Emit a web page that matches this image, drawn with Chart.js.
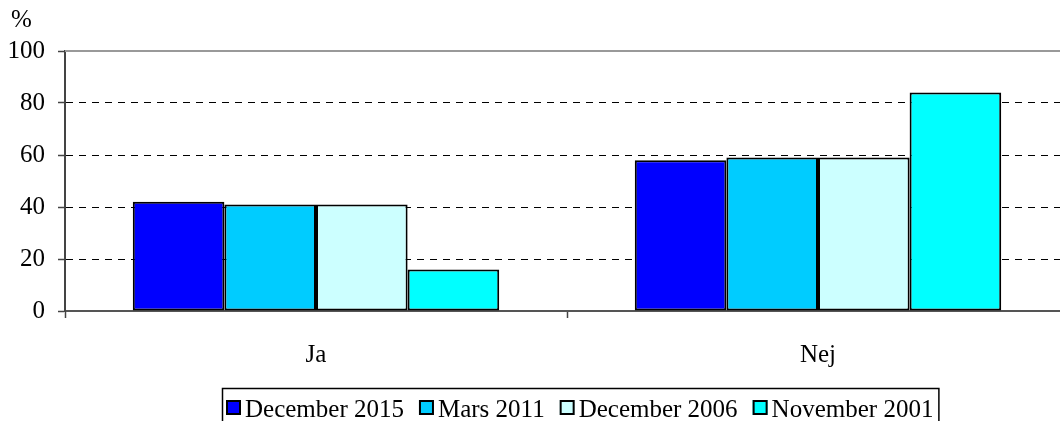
<!DOCTYPE html>
<html>
<head>
<meta charset="utf-8">
<script src="https://cdn.jsdelivr.net/npm/chart.js@4/dist/chart.umd.min.js"></script>
<style>
html,body{margin:0;padding:0;background:#fff;overflow:hidden;}
#wrap{position:absolute;left:0;top:0;width:1075px;height:430px;}
</style>
</head>
<body>
<div id="wrap"><canvas id="c" width="1075" height="430"></canvas></div>
<script>
const categories = ['Ja', 'Nej'];
const seriesLabels = ['December 2015', 'Mars 2011', 'December 2006', 'November 2001'];
const dec2015 = [42, 58];
const mars2011 = [41, 59];
const dec2006 = [41, 59];
const nov2001 = [16, 84];
const yTicks = [0, 20, 40, 60, 80, 100];
const unitLabel = '%';
const colors = ['#0000FF', '#00CCFF', '#CCFFFF', '#00FFFF'];

const FONT = '"Liberation Serif", "Times New Roman", serif';
const FS = 25;

const extras = {
  id: 'extras',
  afterDraw(chart) {
    const ctx = chart.ctx;
    const y = chart.scales.y;
    const area = chart.chartArea;
    ctx.save();
    // top line at 100
    ctx.strokeStyle = '#999999';
    ctx.lineWidth = 2;
    ctx.beginPath();
    const yTop = Math.round(y.getPixelForValue(100));
    ctx.moveTo(area.left, yTop);
    ctx.lineTo(area.right + 10, yTop);
    ctx.stroke();
    // unit label
    ctx.fillStyle = '#000';
    ctx.font = FS + 'px ' + FONT;
    ctx.textAlign = 'left';
    ctx.textBaseline = 'alphabetic';
    ctx.fillText(unitLabel, 11, 27);
    // legend
    const ds = chart.data.datasets;
    const box = 15, gapBox = 4, gapItem = 15, padL = 4, padR = 5;
    const widths = ds.map(d => box + gapBox + ctx.measureText(d.label).width);
    const startX = 226;
    const total = widths.reduce((a, b) => a + b, 0) + gapItem * (ds.length - 1) + padL + padR;
    const ly = 388;
    ctx.strokeStyle = '#000';
    ctx.lineWidth = 1.5;
    ctx.strokeRect(startX - padL + 0.5, ly + 0.5, total, 45);
    let x = startX;
    ds.forEach((d, i) => {
      ctx.fillStyle = d.backgroundColor;
      ctx.fillRect(x, 400, box, box);
      ctx.strokeStyle = '#000';
      ctx.lineWidth = 2;
      ctx.strokeRect(x + 1, 401, box - 2, box - 2);
      ctx.fillStyle = '#000';
      ctx.fillText(d.label, x + box + gapBox, 417);
      x += widths[i] + gapItem;
    });
    ctx.restore();
  }
};

new Chart(document.getElementById('c'), {
  type: 'bar',
  data: {
    labels: categories,
    datasets: [dec2015, mars2011, dec2006, nov2001].map((d, i) => ({
      label: seriesLabels[i],
      data: d,
      backgroundColor: colors[i],
      borderColor: '#000',
      borderWidth: 2,
      borderSkipped: false,
      categoryPercentage: 0.73,
      barPercentage: 1.0
    }))
  },
  options: {
    responsive: false,
    animation: false,
    devicePixelRatio: 1,
    layout: { padding: { left: 0, top: 51, right: 6, bottom: 0 } },
    plugins: {
      legend: { display: false },
      tooltip: { enabled: false },
      title: { display: false }
    },
    scales: {
      x: {
        afterFit(s) { s.height = 119; },
        grid: {
          display: true,
          drawOnChartArea: false,
          drawTicks: true,
          tickLength: 7,
          tickColor: '#444',
          tickWidth: 1.5,
          offset: true
        },
        border: { display: true, color: '#555', width: 2 },
        ticks: {
          color: '#000',
          font: { family: FONT, size: FS },
          padding: 22
        }
      },
      y: {
        min: 0,
        max: 100,
        afterFit(s) { s.width = 65; },
        afterBuildTicks(s) { s.ticks = yTicks.map(v => ({ value: v })); },
        grid: {
          color: ctx => (ctx.tick && (ctx.tick.value === 0 || ctx.tick.value === 100)) ? 'rgba(0,0,0,0)' : '#000',
          lineWidth: 1,
          drawTicks: true,
          tickLength: 7,
          tickColor: '#444',
          tickWidth: 1.5
        },
        border: { display: true, color: '#444', width: 2, dash: [7, 6] },
        ticks: {
          color: '#000',
          font: { family: FONT, size: FS },
          padding: 13
        }
      }
    }
  },
  plugins: [extras]
});
</script>
</body>
</html>
